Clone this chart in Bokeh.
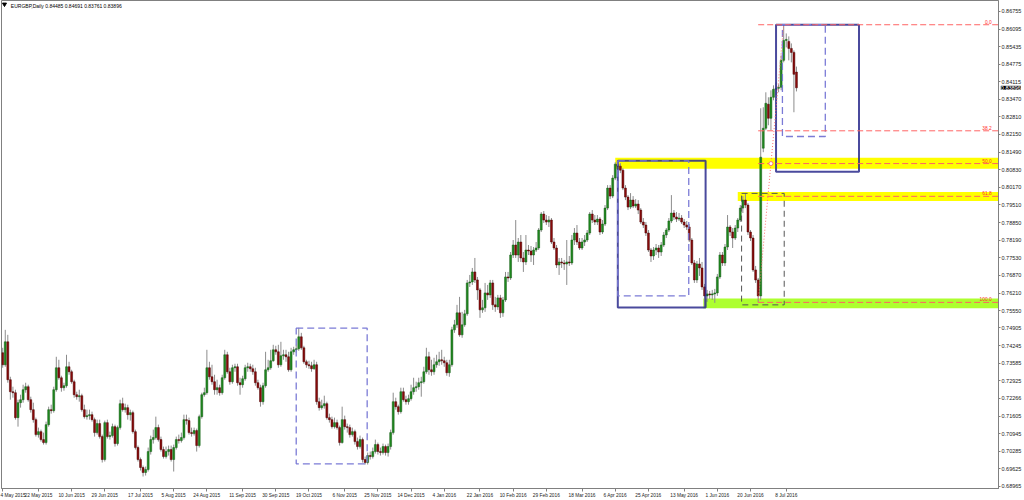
from bokeh.plotting import figure
from bokeh.models import Range1d, FixedTicker, NumeralTickFormatter, ColumnDataSource
from bokeh.embed import file_html
from bokeh.resources import INLINE
from bokeh.core.properties import value

FONT = "Liberation Sans"

# ---- EURGBP daily bars; bar 0 = 4 May 2015, one bar per trading day ----
opens = [
    0.73973, 0.73524, 0.74384, 0.72964, 0.72515, 0.72478, 0.71544, 0.72104,
    0.72216, 0.72590, 0.72702, 0.72216, 0.71843, 0.71469, 0.70908, 0.71020,
    0.70721, 0.70609, 0.71282, 0.71843, 0.71806, 0.72590, 0.73412, 0.73038,
    0.72665, 0.72740, 0.73449, 0.73262, 0.72889, 0.72403, 0.72328, 0.72366,
    0.71843, 0.71581, 0.71619, 0.71656, 0.71469, 0.70983, 0.71320, 0.70833,
    0.69974, 0.71357, 0.70833, 0.70871, 0.71207, 0.70572, 0.71170, 0.72067,
    0.71843, 0.71918, 0.71656, 0.71731, 0.71020, 0.70423, 0.69974, 0.69675,
    0.69488, 0.69600, 0.70273, 0.70721, 0.70796, 0.71170, 0.70721, 0.70348,
    0.70086, 0.70273, 0.70348, 0.69974, 0.70423, 0.70721, 0.70684, 0.70796,
    0.71469, 0.71432, 0.70983, 0.70946, 0.71058, 0.70497, 0.71581, 0.72403,
    0.72478, 0.73412, 0.73075, 0.72889, 0.72590, 0.72665, 0.72478, 0.73038,
    0.73898, 0.73262, 0.72889, 0.73412, 0.73449, 0.72852, 0.72777, 0.73001,
    0.73412, 0.73449, 0.73374, 0.73262, 0.72852, 0.72665, 0.72141, 0.72740,
    0.73337, 0.73412, 0.73674, 0.74085, 0.74010, 0.73524, 0.73861, 0.73898,
    0.73823, 0.73337, 0.74010, 0.74085, 0.74122, 0.74571, 0.74160, 0.73636,
    0.73524, 0.73487, 0.73374, 0.73524, 0.72141, 0.71918, 0.71992, 0.72067,
    0.71544, 0.71469, 0.71207, 0.71357, 0.71170, 0.70609, 0.71469, 0.71207,
    0.71170, 0.70908, 0.71020, 0.70646, 0.70460, 0.70721, 0.69974, 0.69862,
    0.70124, 0.70086, 0.70273, 0.70534, 0.70273, 0.70236, 0.70460, 0.70236,
    0.70460, 0.70983, 0.72141, 0.71955, 0.71768, 0.72515, 0.72216, 0.72141,
    0.72254, 0.72515, 0.72665, 0.72702, 0.72852, 0.72889, 0.73262, 0.73823,
    0.73337, 0.73262, 0.73524, 0.73636, 0.73711, 0.73674, 0.73599, 0.73225,
    0.73524, 0.74832, 0.75019, 0.75468, 0.74645, 0.75019, 0.75431, 0.76589,
    0.76626, 0.77000, 0.76701, 0.76327, 0.75580, 0.75655, 0.76215, 0.76141,
    0.76589, 0.75767, 0.75692, 0.76029, 0.75468, 0.75954, 0.76813, 0.76776,
    0.77635, 0.78009, 0.77635, 0.78121, 0.77524, 0.77374, 0.77822, 0.77785,
    0.77635, 0.77822, 0.77897, 0.78570, 0.79168, 0.78944, 0.78869, 0.78944,
    0.78121, 0.77897, 0.77262, 0.77374, 0.77337, 0.77299, 0.77374, 0.77337,
    0.78196, 0.78458, 0.78121, 0.77897, 0.78121, 0.78196, 0.78458, 0.79168,
    0.78944, 0.78869, 0.78981, 0.78495, 0.78794, 0.79392, 0.80140, 0.79841,
    0.80514, 0.81037, 0.80962, 0.80813, 0.80140, 0.79804, 0.79430, 0.79691,
    0.79467, 0.79542, 0.79318, 0.78869, 0.78757, 0.78458, 0.77822, 0.77598,
    0.77822, 0.77897, 0.77747, 0.78009, 0.78383, 0.78570, 0.78907, 0.79206,
    0.79056, 0.78981, 0.79019, 0.78869, 0.78757, 0.78682, 0.78196, 0.77337,
    0.76701, 0.77299, 0.77150, 0.76439, 0.76103, 0.76178, 0.76141, 0.76178,
    0.76215, 0.76813, 0.77635, 0.77337, 0.77934, 0.78682, 0.78495, 0.78271,
    0.78645, 0.78944, 0.79392, 0.79691, 0.79505, 0.78495, 0.78271, 0.77075,
    0.76701, 0.76103, 0.81635, 0.82382, 0.83280, 0.82756, 0.83541, 0.83840,
    0.83877, 0.83915, 0.84924, 0.85671, 0.85634, 0.85372, 0.85223, 0.84485,
]
highs = [
    0.74160, 0.74832, 0.74645, 0.73075, 0.72702, 0.72590, 0.72216, 0.72403,
    0.72777, 0.72852, 0.72777, 0.72328, 0.72104, 0.71544, 0.71170, 0.71095,
    0.70983, 0.71394, 0.71955, 0.72029, 0.72702, 0.73823, 0.73711, 0.73113,
    0.72852, 0.73898, 0.73636, 0.73337, 0.72964, 0.72515, 0.72590, 0.72441,
    0.72029, 0.71843, 0.71843, 0.71768, 0.71544, 0.71469, 0.71469, 0.70908,
    0.71432, 0.71469, 0.71020, 0.71320, 0.71282, 0.71245, 0.72216, 0.72291,
    0.72067, 0.72029, 0.71843, 0.71806, 0.71095, 0.70497, 0.70049, 0.69750,
    0.69712, 0.70423, 0.70870, 0.71095, 0.71581, 0.71282, 0.70833, 0.70460,
    0.70460, 0.70497, 0.70497, 0.70534, 0.70833, 0.70908, 0.70983, 0.71656,
    0.71656, 0.71544, 0.71170, 0.71170, 0.71133, 0.71656, 0.72478, 0.72665,
    0.74085, 0.73636, 0.73524, 0.73150, 0.72964, 0.72777, 0.73150, 0.74085,
    0.74010, 0.73412, 0.73524, 0.73562, 0.73562, 0.73038, 0.73113, 0.73524,
    0.73599, 0.73562, 0.73524, 0.73412, 0.72964, 0.72777, 0.72852, 0.74010,
    0.73711, 0.74085, 0.74272, 0.74235, 0.74272, 0.74384, 0.74085, 0.74085,
    0.74010, 0.74160, 0.74197, 0.74272, 0.74907, 0.74720, 0.74235, 0.73711,
    0.73674, 0.73636, 0.73711, 0.73636, 0.72291, 0.72216, 0.72366, 0.72141,
    0.71694, 0.71581, 0.71544, 0.71469, 0.71245, 0.71955, 0.71619, 0.71320,
    0.71282, 0.71170, 0.71095, 0.70796, 0.70871, 0.70796, 0.70086, 0.70236,
    0.70273, 0.70423, 0.70721, 0.70609, 0.70423, 0.70572, 0.70534, 0.70572,
    0.71095, 0.72478, 0.72291, 0.72029, 0.72665, 0.72665, 0.72366, 0.72403,
    0.72777, 0.73038, 0.72889, 0.73038, 0.73075, 0.73449, 0.74160, 0.74010,
    0.73711, 0.73786, 0.73898, 0.74010, 0.74085, 0.73823, 0.73711, 0.73711,
    0.74945, 0.75206, 0.75767, 0.76066, 0.75505, 0.75580, 0.76701, 0.76888,
    0.77150, 0.77524, 0.76813, 0.76402, 0.75954, 0.76589, 0.76514, 0.76701,
    0.76701, 0.76066, 0.76141, 0.76141, 0.76066, 0.77000, 0.77000, 0.77747,
    0.78196, 0.78944, 0.78271, 0.78383, 0.77747, 0.78383, 0.78009, 0.77972,
    0.77934, 0.78121, 0.78645, 0.79243, 0.79281, 0.79131, 0.79093, 0.79019,
    0.78271, 0.78009, 0.77524, 0.77524, 0.77449, 0.78196, 0.77598, 0.78383,
    0.78645, 0.78757, 0.78271, 0.78271, 0.78383, 0.78570, 0.79243, 0.79318,
    0.79131, 0.79131, 0.79056, 0.78944, 0.79505, 0.80252, 0.80252, 0.80626,
    0.81110, 0.81160, 0.81074, 0.80887, 0.80252, 0.79878, 0.79953, 0.79841,
    0.79729, 0.79691, 0.79392, 0.79019, 0.78869, 0.78570, 0.77897, 0.77934,
    0.78047, 0.78009, 0.78121, 0.78495, 0.78645, 0.79019, 0.79878, 0.79318,
    0.79243, 0.79206, 0.79131, 0.78981, 0.78907, 0.78795, 0.78271, 0.77449,
    0.77412, 0.77524, 0.77374, 0.76552, 0.76327, 0.76290, 0.76327, 0.76365,
    0.76925, 0.77747, 0.77747, 0.78047, 0.79131, 0.78757, 0.78645, 0.78757,
    0.79019, 0.79505, 0.79841, 0.79942, 0.79579, 0.78570, 0.78383, 0.77225,
    0.76776, 0.83130, 0.83167, 0.83728, 0.83541, 0.83803, 0.83989, 0.84101,
    0.84027, 0.85110, 0.86258, 0.85933, 0.85821, 0.85559, 0.85297, 0.84691,
]
lows = [
    0.73412, 0.73449, 0.72852, 0.72216, 0.72291, 0.71469, 0.71207, 0.71918,
    0.72104, 0.72478, 0.72141, 0.71731, 0.71357, 0.70833, 0.70796, 0.70646,
    0.70534, 0.70534, 0.71207, 0.71694, 0.71731, 0.72515, 0.72964, 0.72515,
    0.72553, 0.72665, 0.73150, 0.72815, 0.72291, 0.72216, 0.72141, 0.71768,
    0.71507, 0.71469, 0.71469, 0.71394, 0.70833, 0.70908, 0.70759, 0.69862,
    0.69899, 0.70759, 0.70721, 0.70796, 0.70460, 0.70497, 0.71095, 0.71768,
    0.71731, 0.71469, 0.71432, 0.70946, 0.70348, 0.69899, 0.69563, 0.69338,
    0.69376, 0.69525, 0.70161, 0.70572, 0.70721, 0.70646, 0.70273, 0.70011,
    0.70011, 0.70124, 0.69899, 0.69525, 0.70348, 0.70572, 0.70609, 0.70721,
    0.71282, 0.70908, 0.70833, 0.70871, 0.70273, 0.70423, 0.71507, 0.72328,
    0.72403, 0.72964, 0.72777, 0.72403, 0.72403, 0.72366, 0.72403, 0.72964,
    0.73188, 0.72777, 0.72815, 0.73262, 0.72740, 0.72403, 0.72665, 0.72927,
    0.73262, 0.73262, 0.73150, 0.72740, 0.72590, 0.71955, 0.72029, 0.72665,
    0.73262, 0.73337, 0.73636, 0.73898, 0.73412, 0.73449, 0.73711, 0.73636,
    0.73262, 0.73262, 0.73898, 0.73973, 0.74047, 0.74085, 0.73562, 0.73412,
    0.73374, 0.73262, 0.73337, 0.72029, 0.71806, 0.71843, 0.71880, 0.71469,
    0.71357, 0.71133, 0.71133, 0.71095, 0.70497, 0.70572, 0.71095, 0.70983,
    0.70796, 0.70833, 0.70534, 0.70348, 0.70385, 0.69862, 0.69787, 0.69787,
    0.69974, 0.70011, 0.70198, 0.70161, 0.70124, 0.70161, 0.70124, 0.70086,
    0.70348, 0.70908, 0.71843, 0.71656, 0.71694, 0.72141, 0.72029, 0.72029,
    0.72179, 0.72403, 0.72515, 0.72590, 0.72328, 0.72815, 0.73188, 0.73150,
    0.73113, 0.73150, 0.73412, 0.73487, 0.73524, 0.73449, 0.73113, 0.73075,
    0.73449, 0.74720, 0.74907, 0.74571, 0.74534, 0.74945, 0.75356, 0.76439,
    0.76514, 0.76589, 0.75954, 0.75281, 0.75468, 0.75505, 0.75954, 0.76029,
    0.75580, 0.75505, 0.75580, 0.75281, 0.75319, 0.75879, 0.76626, 0.76701,
    0.77524, 0.77524, 0.77374, 0.77374, 0.77000, 0.77262, 0.77635, 0.77374,
    0.77262, 0.77747, 0.77822, 0.78495, 0.78832, 0.78757, 0.78682, 0.78047,
    0.77822, 0.77150, 0.76888, 0.77150, 0.77075, 0.76514, 0.77225, 0.77262,
    0.78009, 0.78009, 0.77822, 0.77822, 0.77972, 0.78121, 0.78383, 0.78832,
    0.78757, 0.78757, 0.78383, 0.78420, 0.78719, 0.79318, 0.79729, 0.79766,
    0.80439, 0.80813, 0.80701, 0.80065, 0.79691, 0.79318, 0.79355, 0.79392,
    0.79392, 0.79168, 0.78795, 0.78645, 0.78346, 0.77747, 0.77374, 0.77449,
    0.77635, 0.77524, 0.77598, 0.77934, 0.78271, 0.78495, 0.78832, 0.78944,
    0.78869, 0.78907, 0.78795, 0.78645, 0.78570, 0.78121, 0.77262, 0.76589,
    0.76589, 0.76851, 0.76327, 0.75692, 0.75879, 0.75991, 0.75954, 0.75841,
    0.76103, 0.76738, 0.77225, 0.77225, 0.77822, 0.78346, 0.77897, 0.78196,
    0.78495, 0.78869, 0.79206, 0.79392, 0.78383, 0.78159, 0.77000, 0.76589,
    0.75860, 0.75954, 0.81485, 0.82308, 0.82494, 0.82308, 0.83429, 0.83616,
    0.83728, 0.83803, 0.84849, 0.85410, 0.84924, 0.84849, 0.82981, 0.83761,
]
closes = [
    0.73524, 0.74384, 0.72964, 0.72515, 0.72478, 0.71544, 0.72104, 0.72216,
    0.72590, 0.72702, 0.72216, 0.71843, 0.71469, 0.70908, 0.71020, 0.70721,
    0.70609, 0.71282, 0.71843, 0.71806, 0.72590, 0.73412, 0.73038, 0.72665,
    0.72740, 0.73449, 0.73262, 0.72889, 0.72403, 0.72328, 0.72366, 0.71843,
    0.71581, 0.71619, 0.71656, 0.71469, 0.70983, 0.71320, 0.70833, 0.69974,
    0.71357, 0.70833, 0.70871, 0.71207, 0.70572, 0.71170, 0.72067, 0.71843,
    0.71918, 0.71656, 0.71731, 0.71020, 0.70423, 0.69974, 0.69675, 0.69488,
    0.69600, 0.70273, 0.70721, 0.70796, 0.71170, 0.70721, 0.70348, 0.70086,
    0.70273, 0.70348, 0.69974, 0.70423, 0.70721, 0.70684, 0.70796, 0.71469,
    0.71432, 0.70983, 0.70946, 0.71058, 0.70497, 0.71581, 0.72403, 0.72478,
    0.73412, 0.73075, 0.72889, 0.72590, 0.72665, 0.72478, 0.73038, 0.73898,
    0.73262, 0.72889, 0.73412, 0.73449, 0.72852, 0.72777, 0.73001, 0.73412,
    0.73449, 0.73374, 0.73262, 0.72852, 0.72665, 0.72141, 0.72740, 0.73337,
    0.73412, 0.73674, 0.74085, 0.74010, 0.73524, 0.73861, 0.73898, 0.73823,
    0.73337, 0.74010, 0.74085, 0.74122, 0.74571, 0.74160, 0.73636, 0.73524,
    0.73487, 0.73374, 0.73524, 0.72141, 0.71918, 0.71992, 0.72067, 0.71544,
    0.71469, 0.71207, 0.71357, 0.71170, 0.70609, 0.71469, 0.71207, 0.71170,
    0.70908, 0.71020, 0.70646, 0.70460, 0.70721, 0.69974, 0.69862, 0.70124,
    0.70086, 0.70273, 0.70534, 0.70273, 0.70236, 0.70460, 0.70236, 0.70460,
    0.70983, 0.72141, 0.71955, 0.71768, 0.72515, 0.72216, 0.72141, 0.72254,
    0.72515, 0.72665, 0.72702, 0.72852, 0.72889, 0.73262, 0.73823, 0.73337,
    0.73262, 0.73524, 0.73636, 0.73711, 0.73674, 0.73599, 0.73225, 0.73524,
    0.74832, 0.75019, 0.75468, 0.74645, 0.75019, 0.75431, 0.76589, 0.76626,
    0.77000, 0.76701, 0.76327, 0.75580, 0.75655, 0.76215, 0.76141, 0.76589,
    0.75767, 0.75692, 0.76029, 0.75468, 0.75954, 0.76813, 0.76776, 0.77635,
    0.78009, 0.77635, 0.78121, 0.77524, 0.77374, 0.77822, 0.77785, 0.77635,
    0.77822, 0.77897, 0.78570, 0.79168, 0.78944, 0.78869, 0.78944, 0.78121,
    0.77897, 0.77262, 0.77374, 0.77337, 0.77299, 0.77374, 0.77337, 0.78196,
    0.78458, 0.78121, 0.77897, 0.78121, 0.78196, 0.78458, 0.79168, 0.78944,
    0.78869, 0.78981, 0.78495, 0.78794, 0.79392, 0.80140, 0.79841, 0.80514,
    0.81037, 0.80962, 0.80813, 0.80140, 0.79804, 0.79430, 0.79691, 0.79467,
    0.79542, 0.79318, 0.78869, 0.78757, 0.78458, 0.77822, 0.77598, 0.77822,
    0.77897, 0.77747, 0.78009, 0.78383, 0.78570, 0.78907, 0.79206, 0.79056,
    0.78981, 0.79019, 0.78869, 0.78757, 0.78682, 0.78196, 0.77337, 0.76701,
    0.77299, 0.77150, 0.76439, 0.76103, 0.76178, 0.76141, 0.76178, 0.76215,
    0.76813, 0.77635, 0.77337, 0.77934, 0.78682, 0.78495, 0.78271, 0.78645,
    0.78944, 0.79392, 0.79691, 0.79505, 0.78495, 0.78271, 0.77075, 0.76701,
    0.76103, 0.81298, 0.82382, 0.83317, 0.82756, 0.83541, 0.83840, 0.83877,
    0.83915, 0.84924, 0.85671, 0.85709, 0.85372, 0.85223, 0.84401, 0.83896,
]
bar_index = list(range(len(closes)))

# ---- axis labels ----
price_ticks = [0.86755, 0.86095, 0.85435, 0.84775, 0.84115, 0.83470, 0.82810, 0.82150,
               0.81490, 0.80830, 0.80170, 0.79510, 0.78850, 0.78190, 0.77530, 0.76870,
               0.76210, 0.75550, 0.74905, 0.74245, 0.73585, 0.72925, 0.72266, 0.71605,
               0.70945, 0.70285, 0.69625, 0.68965]
date_ticks = [0, 14, 27, 40, 54, 67, 80, 94, 107, 120, 134, 147, 160, 173, 187, 200,
              213, 227, 240, 253, 267, 280, 293, 307]
date_labels = ["4 May 2015", "22 May 2015", "10 Jun 2015", "29 Jun 2015", "17 Jul 2015",
               "5 Aug 2015", "24 Aug 2015", "11 Sep 2015", "30 Sep 2015", "19 Oct 2015",
               "6 Nov 2015", "25 Nov 2015", "14 Dec 2015", "4 Jan 2016", "22 Jan 2016",
               "10 Feb 2016", "29 Feb 2016", "18 Mar 2016", "6 Apr 2016", "25 Apr 2016",
               "13 May 2016", "1 Jun 2016", "20 Jun 2016", "8 Jul 2016"]

symbol_line = "EURGBP,Daily 0.84485 0.84691 0.83761 0.83896"
last_price = 0.83896

# ---- Fibonacci retracement: swing low (bar 296) to swing high (bar 306) ----
fib_low, fib_high = 0.75860, 0.86258
fib_low_bar, fib_high_bar = 296, 306
fib_levels = [0.0, 38.2, 50.0, 61.8, 100.0]
fib_names = ["0.0", "38.2", "50.0", "61.8", "100.0"]

# ---- highlighted zones (run to the right edge) ----
zone_left   = [240, 288, 274.5]
zone_top    = [0.81280, 0.79990, 0.76010]
zone_bottom = [0.80869, 0.79654, 0.75636]
zone_colors = ["#ffff00", "#ffff00", "#adff2f"]

# ---- drawn boxes ----
solid_left, solid_right = [241, 303], [275.4, 335.5]
solid_top, solid_bottom = [0.81160, 0.86258], [0.75666, 0.80749]
dash_left, dash_right = [115, 241, 305.5], [142.8, 268.8, 322.3]
dash_top, dash_bottom = [0.74896, 0.81160, 0.86258], [0.69813, 0.76103, 0.82072]
grey_left, grey_right = [289.5], [306.2]
grey_top, grey_bottom = [0.79942], [0.75767]

X_START, X_END = -0.47, 390.16
Y_START, Y_END = 0.68890, 0.87166

p = figure(width=1024, height=500, output_backend="svg", toolbar_location=None,
           x_range=Range1d(X_START, X_END), y_range=Range1d(Y_START, Y_END),
           y_axis_location="right", min_border_left=1, min_border_top=0,
           min_border_right=22, min_border_bottom=11)
p.background_fill_color = "white"
p.border_fill_color = "white"
p.outline_line_color = "#808080"
p.grid.visible = False

# zones
p.quad(left=zone_left, right=[X_END + 5] * len(zone_left), top=zone_top,
       bottom=zone_bottom, fill_color=zone_colors, line_color=None)

# candles
inc = [c >= o for o, c in zip(opens, closes)]
src = ColumnDataSource(dict(
    x=bar_index, high=highs, low=lows,
    top=[max(o, c) for o, c in zip(opens, closes)],
    bottom=[min(o, c) for o, c in zip(opens, closes)],
    fill=["#1f8a1f" if u else "#8b0a0a" for u in inc],
    edge=["#145a14" if u else "#4a0505" for u in inc],
))
p.segment(x0="x", y0="high", x1="x", y1="low", source=src, line_color="#8c8c8c", line_width=1)
p.vbar(x="x", width=0.75, top="top", bottom="bottom", source=src,
       fill_color="fill", line_color="edge", line_width=0.5)

# boxes
p.quad(left=solid_left, right=solid_right, top=solid_top, bottom=solid_bottom,
       fill_color=None, line_color="#2a2a8c", line_width=2, line_alpha=0.85)
p.quad(left=dash_left, right=dash_right, top=dash_top, bottom=dash_bottom,
       fill_color=None, line_color="#7b7bd6", line_width=1.3, line_dash="7 4")
p.quad(left=grey_left, right=grey_right, top=grey_top, bottom=grey_bottom,
       fill_color=None, line_color="#555555", line_width=1, line_dash="6 4")

# fibonacci levels
rng = fib_high - fib_low
fib_prices = [fib_high - lv / 100.0 * rng for lv in fib_levels]
p.segment(x0=[fib_low_bar] * len(fib_prices), y0=fib_prices,
          x1=[X_END + 5] * len(fib_prices), y1=fib_prices,
          line_color="#ff6464", line_width=1, line_dash="6 3")
p.text(x=[X_END - 2.7] * len(fib_prices), y=fib_prices, text=fib_names,
       text_align="right", text_baseline="bottom", text_color="#ff2a2a",
       text_font=value(FONT), text_font_size="4.8px", y_offset=-1)
p.line([fib_low_bar, fib_high_bar], [fib_low, fib_high], line_color="#ff7070",
       line_width=1, line_dash="1 2")
p.scatter([fib_low_bar + 0.5 * (fib_high_bar - fib_low_bar)], [fib_low + 0.5 * rng],
          marker="circle", size=4, fill_color="white", line_color="#ff7070")

# symbol header
p.scatter([0.7], [Y_END - 0.0014], marker="inverted_triangle", size=4,
          fill_color="black", line_color="black")
p.text(x=[3.2], y=[Y_END - 0.0008], text=[symbol_line], text_align="left",
       text_baseline="top", text_color="black", text_font=value(FONT),
       text_font_size="5px")

# axes
yax = p.yaxis[0]
yax.ticker = FixedTicker(ticks=price_ticks)
yax.formatter = NumeralTickFormatter(format="0.00000")
yax.major_label_text_font = FONT
yax.major_label_text_font_size = "5.5px"
yax.major_label_text_color = "#222222"
yax.major_tick_out = 2
yax.major_tick_in = 0
yax.minor_tick_out = 0
yax.minor_tick_in = 0
yax.major_label_standoff = 1
yax.axis_line_color = "#808080"
yax.major_tick_line_color = "#808080"

xax = p.xaxis[0]
xax.ticker = FixedTicker(ticks=date_ticks)
xax.major_label_overrides = {t: s for t, s in zip(date_ticks, date_labels)}
xax.major_label_text_font = FONT
xax.major_label_text_font_size = "4.8px"
xax.major_label_text_color = "#222222"
xax.major_label_text_align = "left"
xax.major_tick_out = 3
xax.major_tick_in = 0
xax.minor_tick_out = 0
xax.minor_tick_in = 0
xax.major_label_standoff = 1
xax.axis_line_color = "#808080"
xax.major_tick_line_color = "#808080"

# last price marker on the price scale
p.text(x=[X_END + 0.9], y=[last_price], text=["0.83896"], text_align="left",
       text_baseline="middle", text_color="white", text_font=value(FONT),
       text_font_size="5.5px", background_fill_color="black", level="overlay")

open("out.html", "w").write(file_html(p, INLINE))
